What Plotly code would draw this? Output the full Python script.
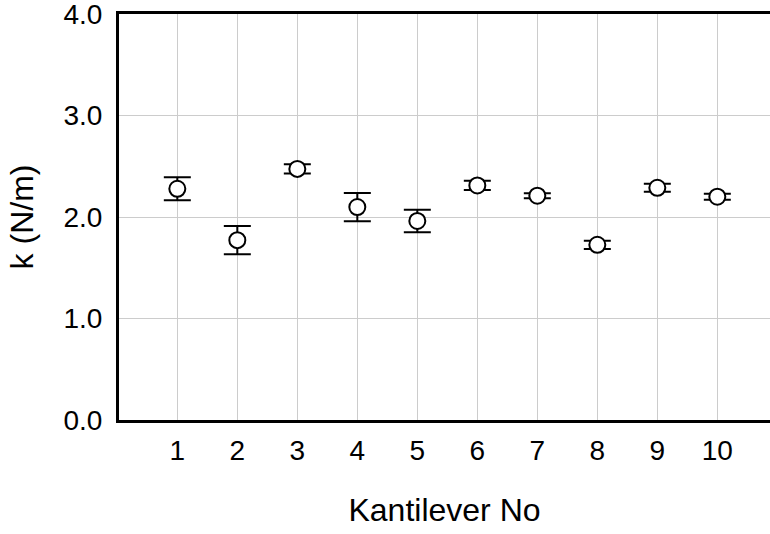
import plotly.graph_objects as go

# Data
cantilever_no = [1, 2, 3, 4, 5, 6, 7, 8, 9, 10]
tick_labels = ["1", "2", "3", "4", "5", "6", "7", "8", "9", "10"]
k_values = [2.278, 1.772, 2.474, 2.098, 1.961, 2.311, 2.210, 1.726, 2.288, 2.200]
k_errors = [0.113, 0.140, 0.046, 0.139, 0.111, 0.046, 0.025, 0.041, 0.039, 0.029]
y_ticks = [0, 1, 2, 3, 4]

FONT = "Liberation Sans, Arial, sans-serif"

fig = go.Figure()
fig.add_trace(go.Scatter(
    x=cantilever_no,
    y=k_values,
    mode="markers",
    marker=dict(symbol="circle", size=16, color="white",
                line=dict(color="black", width=2)),
    error_y=dict(type="data", array=k_errors, visible=True,
                 color="black", thickness=2, width=13.5),
    showlegend=False,
    cliponaxis=False,
))

fig.update_layout(
    width=770, height=534,
    margin=dict(l=119, r=0, t=14, b=114),
    paper_bgcolor="white", plot_bgcolor="white",
    font=dict(family=FONT, color="black", size=28),
)
fig.update_xaxes(
    range=[0.028, 10.878],
    tickvals=cantilever_no, ticktext=tick_labels,
    showgrid=True, gridcolor="#cccccc", gridwidth=1.2,
    showline=True, linecolor="black", linewidth=3, mirror=True,
    ticks="", zeroline=False, automargin=False,
    tickfont=dict(size=28), ticklabelstandoff=3, ticklabeloverflow="allow",
    title=dict(text="Kantilever No", font=dict(size=32), standoff=35),
)
fig.update_yaxes(
    range=[0, 4],
    tickvals=y_ticks, tickformat=".1f",
    showgrid=True, gridcolor="#cccccc", gridwidth=1.2,
    showline=True, linecolor="black", linewidth=3, mirror=False,
    ticks="", zeroline=False, automargin=False,
    tickfont=dict(size=28), ticklabelstandoff=8, ticklabeloverflow="allow",
    title=dict(text="k (N/m)", font=dict(size=32), standoff=21),
)

fig.write_html("out.html", config={"displayModeBar": False},
               post_script="document.body.style.margin='0';")
